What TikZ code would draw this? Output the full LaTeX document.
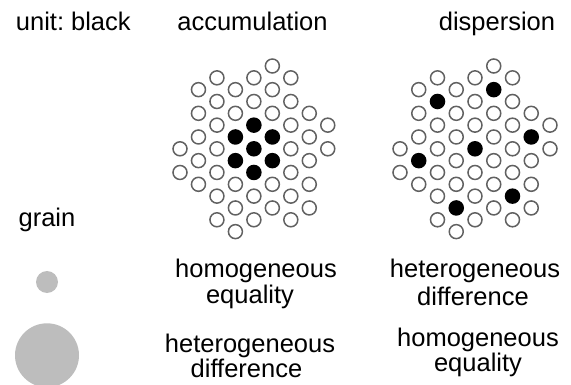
\documentclass[tikz,border=0pt]{standalone}
\usepackage{fontspec}
\setmainfont{Liberation Sans}
\frenchspacing
\begin{document}
\begin{tikzpicture}[x=1pt,y=-1pt,
  ring/.style={circle, draw=black!62, line width=1.5pt, minimum size=14pt, inner sep=0pt, fill=white},
  dot/.style={circle, draw=black, fill=black, line width=1.5pt, minimum size=14pt, inner sep=0pt},
  grainc/.style={circle, fill=black!26, draw=none, inner sep=0pt},
  lbl/.style={anchor=base, inner sep=0pt, font=\fontsize{25.5}{25.5}\selectfont}]
\useasboundingbox (0,0) rectangle (571,385);

% headers
\node[lbl] (unit) at (73.3,31) {unit:\ black};
\node[lbl] (acc) at (252.5,31) {accumulation};
\node[lbl] (disp) at (497,31) {dispersion};
\node[lbl] (grain) at (47,227) {grain};

% grain circles
\node[grainc, minimum size=22pt] (gsmall) at (47,282) {};
\node[grainc, minimum size=64pt] (glarge) at (47,355.3) {};

% accumulation cluster
\foreach \c/\ka/\kb in {0/7/9, 1/2/10, 2/1/13, 3/2/14, 4/1/13, 5/0/12, 6/1/13, 7/4/12, 8/5/7}{
  \foreach \k in {0,...,14}{
    \ifnum\k<\ka\relax\else\ifnum\k>\kb\relax\else
      \ifodd\numexpr\c+\k\relax
        \pgfmathparse{(((\c==3)||(\c==5))&&((\k==6)||(\k==8)))||((\c==4)&&(\k>=5)&&(\k<=9))}
        \ifdim\pgfmathresult pt>0.5pt
          \node[dot] (a-\c-\k) at ({180+18.47*\c},{66+11.83*\k}) {};
        \else
          \node[ring] (a-\c-\k) at ({180+18.47*\c},{66+11.83*\k}) {};
        \fi
      \fi
    \fi\fi
  }
}

% dispersion cluster
\foreach \c/\ka/\kb in {0/7/9, 1/2/10, 2/1/13, 3/2/14, 4/1/13, 5/0/12, 6/1/13, 7/4/12, 8/5/7}{
  \foreach \k in {0,...,14}{
    \ifnum\k<\ka\relax\else\ifnum\k>\kb\relax\else
      \ifodd\numexpr\c+\k\relax
        \pgfmathparse{((\c==5)&&(\k==2))||((\c==2)&&(\k==3))||((\c==4)&&(\k==7))||((\c==7)&&(\k==6))||((\c==1)&&(\k==8))||((\c==6)&&(\k==11))||((\c==3)&&(\k==12))}
        \ifdim\pgfmathresult pt>0.5pt
          \node[dot] (d-\c-\k) at ({400+18.75*\c},{66+11.83*\k}) {};
        \else
          \node[ring] (d-\c-\k) at ({400+18.75*\c},{66+11.83*\k}) {};
        \fi
      \fi
    \fi\fi
  }
}

% left column labels
\node[lbl] (l1) at (256,277.5) {homogeneous};
\node[lbl] (l2) at (250,303) {equality};
\node[lbl] (l3) at (250,352.5) {heterogeneous};
\node[lbl] (l4) at (246.5,377.5) {difference};

% right column labels
\node[lbl] (r1) at (475,277.5) {heterogeneous};
\node[lbl] (r2) at (473,305.5) {difference};
\node[lbl] (r3) at (478,346) {homogeneous};
\node[lbl] (r4) at (478,371) {equality};
\end{tikzpicture}
\end{document}
